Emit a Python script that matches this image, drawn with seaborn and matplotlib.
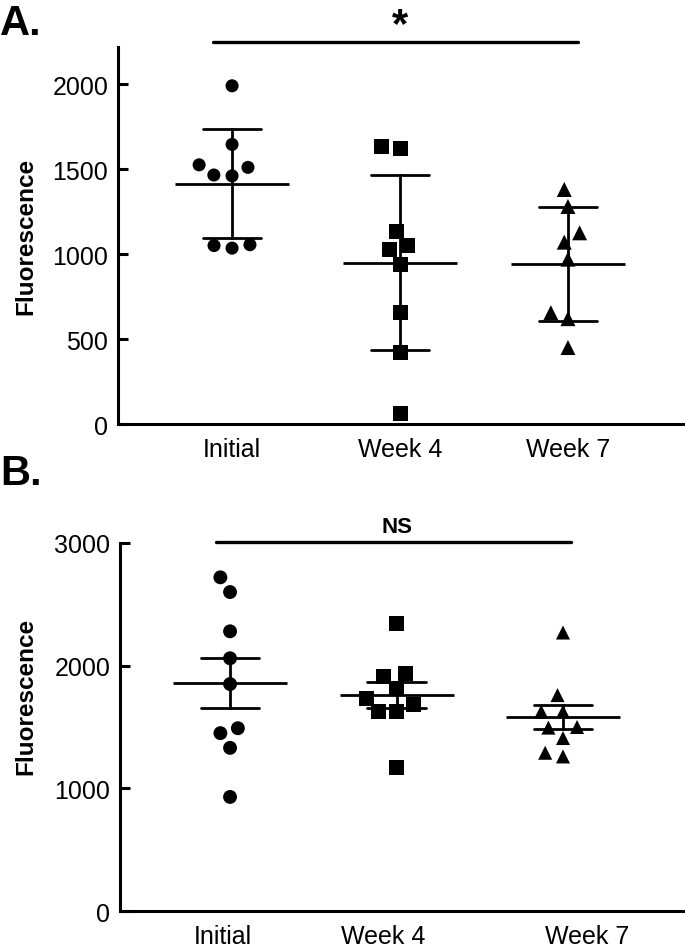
import numpy as np
import pandas as pd
import matplotlib
matplotlib.use("Agg")
import matplotlib.pyplot as plt
import seaborn as sns

# values
groups = ["Initial", "Week 4", "Week 7"]
markers = ["o", "s", "^"]

a_initial = [1990, 1645, 1525, 1510, 1460, 1465, 1035, 1055, 1050]
a_week4 = [1620, 1635, 1130, 1050, 1025, 940, 655, 420, 60]
a_week7 = [1380, 1280, 1125, 1070, 970, 655, 620, 450]

b_initial = [2720, 2600, 2280, 2060, 1850, 1490, 1450, 1330, 930]
b_week4 = [2345, 1940, 1910, 1815, 1735, 1685, 1625, 1630, 1170]
b_week7 = [2270, 1760, 1625, 1625, 1500, 1495, 1410, 1260, 1290]

a_ticks = [0, 500, 1000, 1500, 2000]
b_ticks = [0, 1000, 2000, 3000]


def make_df(*series):
    rows = []
    for grp, vals in zip(groups, series):
        for v in vals:
            rows.append({"group": grp, "value": v})
    return pd.DataFrame(rows)


df_a = make_df(a_initial, a_week4, a_week7)
df_b = make_df(b_initial, b_week4, b_week7)

sns.set_style("ticks")
plt.rcParams["font.family"] = ["Liberation Sans", "DejaVu Sans"]
# pure black axes and text like the original figure
for key in ["text.color", "axes.edgecolor", "axes.labelcolor",
            "xtick.color", "ytick.color"]:
    plt.rcParams[key] = "black"

fig = plt.figure(figsize=(6.85, 9.53), dpi=100)
ax_a = fig.add_axes([0.1723, 0.5540, 0.8248, 0.3956])
ax_b = fig.add_axes([0.1752, 0.0430, 0.8219, 0.3862])


def draw_panel(ax, df, err, marker_sizes, gaps):
    # individual points, one marker shape per group
    # an invisible edge width only widens the swarm spacing
    for grp, mk, sz, gap in zip(groups, markers, marker_sizes, gaps):
        sns.swarmplot(data=df[df["group"] == grp], x="group", y="value",
                      order=groups, marker=mk, size=sz, color="black",
                      edgecolor="none", linewidth=gap, ax=ax)
    # mean line with error bars
    sns.pointplot(data=df, x="group", y="value", order=groups,
                  errorbar=err, capsize=0.35, color="black",
                  marker="_", markersize=82, markeredgewidth=2.0,
                  linestyle="none", err_kws={"linewidth": 2.0}, ax=ax)
    for side in ["top", "right"]:
        ax.spines[side].set_visible(False)
    for side in ["left", "bottom"]:
        ax.spines[side].set_linewidth(2.2)
    ax.tick_params(axis="y", direction="in", length=7, width=2.2,
                   labelsize=18, pad=7)
    ax.tick_params(axis="x", length=0, labelsize=18, pad=9)
    ax.set_xlabel("")
    ax.set_ylabel("Fluorescence", fontsize=17.5, fontweight="bold")


# panel A: mean +/- SD
draw_panel(ax_a, df_a, "sd", [9.4, 10.8, 10.8], [3.1, 1.7, 1.7])
ax_a.set_xlim(-0.679, 2.685)
ax_a.set_ylim(0, 2218)
ax_a.set_yticks(a_ticks)
ax_a.yaxis.set_label_coords(-0.142, 0.5)
ax_a.plot([-0.113, 2.06], [2247, 2247], color="black", linewidth=2.4,
          clip_on=False)
ax_a.text(1.0, 2280, "*", ha="center", va="baseline", fontsize=30,
          fontweight="bold")

# panel B: mean +/- SEM
draw_panel(ax_b, df_b, "se", [10.0, 10.8, 10.1], [2.5, 1.7, 2.4])
ax_b.set_xlim(-0.661, 2.721)
ax_b.set_ylim(0, 3000)
ax_b.set_yticks(b_ticks)
ax_b.set_xticks([-0.042, 0.919, 2.144])
ax_b.set_xticklabels(groups)
ax_b.yaxis.set_label_coords(-0.146, 0.587)
ax_b.plot([-0.084, 2.048], [3005, 3005], color="black", linewidth=2.4,
          clip_on=False)
ax_b.text(1.0, 3091, "NS", ha="center", va="baseline", fontsize=16,
          fontweight="bold")

# panel letters
fig.text(0.0, 1 - 35 / 953, "A.", fontsize=30, fontweight="bold",
         ha="left", va="baseline")
fig.text(0.0, 1 - 485 / 953, "B.", fontsize=30, fontweight="bold",
         ha="left", va="baseline")

fig.savefig("out.png", dpi=100)
plt.close(fig)
